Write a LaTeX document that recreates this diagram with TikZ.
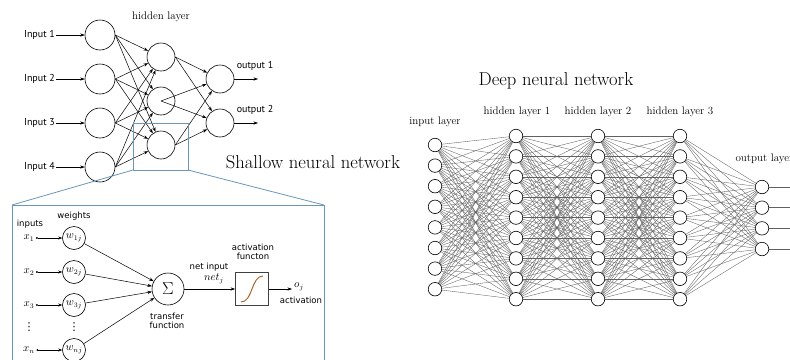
\documentclass[tikz,border=0pt]{standalone}
\usepackage{fontspec}
\newfontfamily\dv{DejaVu Sans}
\newfontfamily\pts{PT Sans}
\usetikzlibrary{arrows.meta,backgrounds}
\definecolor{detailblue}{RGB}{105,150,185}
\definecolor{sigbrown}{RGB}{170,100,40}
\begin{document}
\begin{tikzpicture}[x=1pt,y=-1pt,
  snode/.style={circle,draw,line width=0.6pt,minimum size=30pt,inner sep=0pt},
  hnode/.style={circle,draw,line width=0.6pt,minimum size=28pt,inner sep=0pt},
  arr/.style={line width=0.5pt,-{Stealth[length=4.5pt,width=3.2pt]}},
  darr/.style={line width=0.5pt,{Circle[length=1.8pt]}-{Stealth[length=4pt,width=3pt]},shorten <=1pt},
  dnode/.style={circle,draw,fill=white,minimum size=13.5pt,inner sep=0pt,line width=0.6pt},
  dline/.style={black!62,line width=0.35pt},
  sl/.style={font=\pts\fontsize{10}{12}\selectfont,inner sep=1pt},
  dl/.style={font=\dv\fontsize{8.5}{9}\selectfont,inner sep=0.5pt,align=center},
  ml/.style={font=\fontsize{10.5}{11}\selectfont,inner sep=0.5pt},
  vdl/.style={font=\dv\fontsize{11}{11}\selectfont,inner sep=0pt},
  big/.style={font=\fontsize{18.6}{20}\selectfont},
  lay/.style={font=\fontsize{11}{13}\selectfont},
  zoombox/.style={draw=detailblue,line width=0.8pt}
]
\useasboundingbox (0,0) rectangle (790,359);

% ---------------- Shallow network ----------------
\node[lay] (thid) at (161,17) {hidden layer};
\foreach \k/\y in {1/35,2/79,3/123,4/167}{
  \node[snode] (in\k) at (100,\y) {};
  \node[sl,anchor=east] (lab\k) at (56,\y) {Input \k};
  \draw[arr] (lab\k) -- (in\k);
}
\foreach \k/\y in {1/57,2/101,3/145}{
  \node[hnode] (h\k) at (161,\y) {};
}
\foreach \k/\y in {1/79,2/123}{
  \node[hnode] (o\k) at (220,\y) {};
  \coordinate (oe\k) at (258,\y);
  \draw[arr] (o\k) -- (oe\k);
  \node[sl] (tout\k) at (255,{\y-13}) {output \k};
}
\foreach \a in {1,...,4}{
  \foreach \b in {1,2,3}{
    \draw[arr] (in\a.east) -- (h\b);
  }
}
\foreach \b in {1,2}{
  \draw[arr] (h1.east) -- (o\b);
  \draw[arr] (h2.center) -- (o\b);
  \draw[arr] (h3.east) -- (o\b);
}
\node[big] (tshallow) at (313,162) {Shallow neural network};

% zoom rectangle and detail box
\coordinate (zA) at (133,123);
\coordinate (zB) at (188,170);
\coordinate (zBL) at (133,170);
\coordinate (dTL) at (12,205);
\coordinate (dTR) at (324,205);
\coordinate (dBR) at (324,375);
\draw[zoombox] (zA) rectangle (zB);
\draw[zoombox] (zBL) -- (dTL);
\draw[zoombox] (zB) -- (dTR);
\draw[zoombox] (dTL) rectangle (dBR);

% ---------------- Detail (single neuron) ----------------
\node[dl] (tinputs) at (30,224) {inputs};
\node[dl] (tweights) at (74,216) {weights};
\foreach \k/\y/\s in {1/238/1,2/272/2,3/305/3,4/350/n}{
  \node[ml] (x\k) at (29,\y) {$x_{\s}$};
  \node[circle,draw,line width=0.6pt,minimum size=23pt,inner sep=0pt,font=\fontsize{10.5}{11}\selectfont] (w\k) at (74,\y) {$w_{\s j}$};
  \draw[darr] (x\k.east) -- (w\k);
}
\node[vdl] (vd1) at (29,327) {⋮};
\node[vdl] (vd2) at (74,327) {⋮};
\node[circle,draw,line width=0.6pt,minimum size=32pt,inner sep=0pt,font=\fontsize{18}{18}\selectfont] (sig) at (168,289) {$\Sigma$};
\foreach \k in {1,...,4}{
  \draw[arr] (w\k) -- (sig);
}
\node[dl] (ttrans) at (167,321) {transfer\\function};
\node[draw=black!75,line width=0.7pt,minimum size=33pt,inner sep=0pt] (act) at (252,289) {};
\draw[sigbrown,line width=1pt] (241,302) .. controls (253,302) and (251,276) .. (263,276);
\draw[arr] (sig) -- (act);
\node[dl] (tnet) at (209,267) {net input};
\node[ml] (tnetj) at (214,279) {$net_j$};
\node[dl] (tactf) at (253,252) {activation\\functon};
\coordinate (oend) at (292,289);
\draw[arr] (act) -- (oend);
\node[ml] (toj) at (299,287) {$o_j$};
\node[dl] (tactv) at (301,300) {activation};

% ---------------- Deep network ----------------
\node[big] (tdeep) at (556,81) {Deep neural network};
\node[lay] (tin) at (435,122) {input layer};
\node[lay] (th1) at (517,112) {hidden layer 1};
\node[lay] (th2) at (598,112) {hidden layer 2};
\node[lay] (th3) at (680,112) {hidden layer 3};
\node[lay,anchor=west] (tout) at (732,159) {output layer};

\foreach \k in {1,...,8}{
  \node[dnode] (I\k) at (435,{145+(\k-1)*20.6}) {};
}
\foreach \k in {1,...,9}{
  \node[dnode] (A\k) at (516,{136+(\k-1)*20.4}) {};
  \node[dnode] (B\k) at (598,{136+(\k-1)*20.4}) {};
  \node[dnode] (C\k) at (680,{136+(\k-1)*20.4}) {};
}
\foreach \k in {1,...,4}{
  \node[dnode] (O\k) at (762,{187+(\k-1)*20.67}) {};
  \coordinate (E\k) at (792,{187+(\k-1)*20.67});
}
\begin{scope}[on background layer]
  \foreach \a in {1,...,8}{
    \foreach \b in {1,...,9}{
      \draw[dline] (I\a) -- (A\b);
    }
  }
  \foreach \a in {1,...,9}{
    \foreach \b in {1,...,9}{
      \draw[dline] (A\a) -- (B\b);
      \draw[dline] (B\a) -- (C\b);
    }
    \foreach \b in {1,...,4}{
      \draw[dline] (C\a) -- (O\b);
    }
  }
  \foreach \k in {1,...,4}{
    \draw[dline] (O\k) -- (E\k);
  }
\end{scope}
\end{tikzpicture}
\end{document}
